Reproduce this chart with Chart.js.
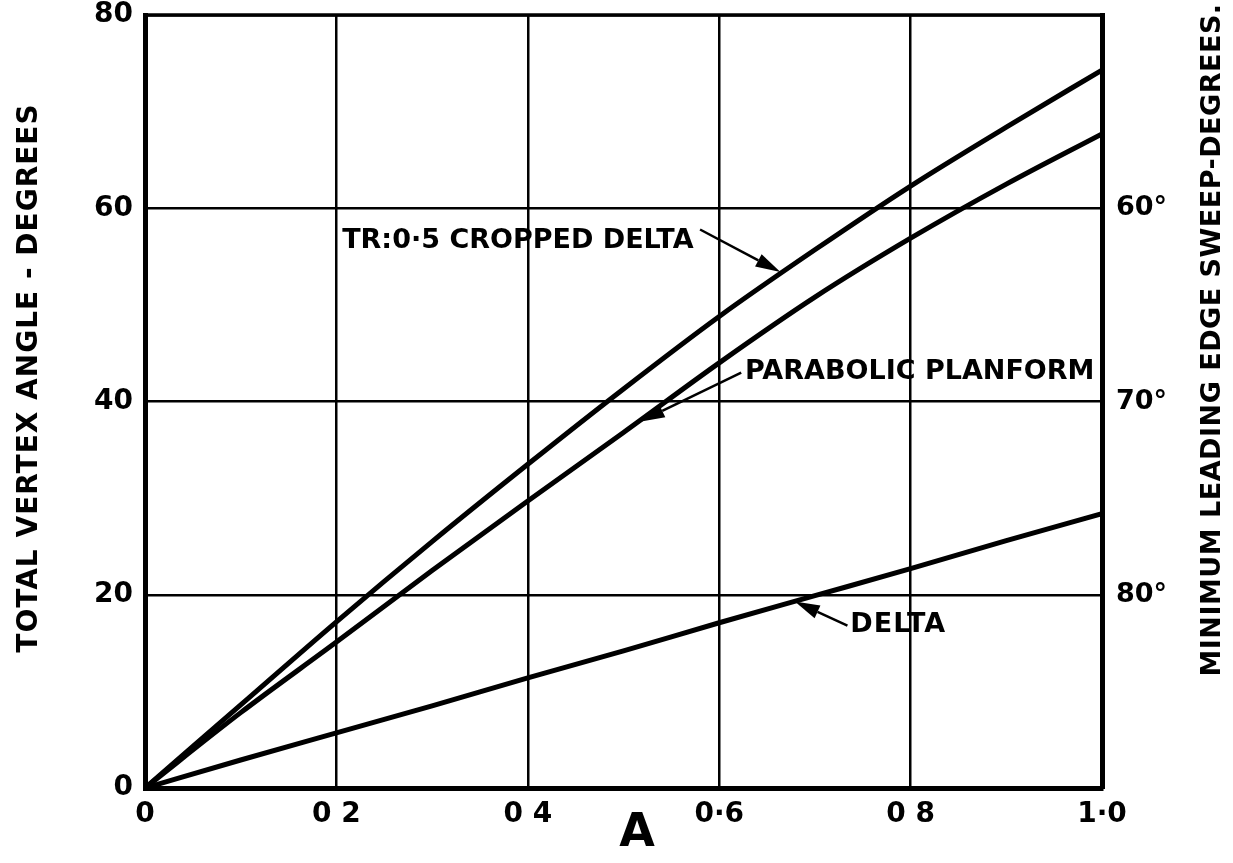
<!DOCTYPE html>
<html>
<head>
<meta charset="utf-8">
<script src="https://cdn.jsdelivr.net/npm/chart.js@4.4.1/dist/chart.umd.min.js"></script>
<style>
  html, body { margin: 0; padding: 0; background: #fff; }
  canvas { display: block; }
</style>
</head>
<body>
<canvas id="chart1" width="1233" height="863"></canvas>
<script>
// aspect ratio A
const aspectRatio = [0, 0.1, 0.2, 0.3, 0.4, 0.5, 0.6, 0.7, 0.8, 0.9, 1.0];
// total vertex angle in degrees for each planform
const croppedDelta = [0, 8.6, 17.2, 25.5, 33.5, 41.3, 48.8, 55.7, 62.3, 68.4, 74.3];
const parabolicPlanform = [0, 7.8, 15.1, 22.5, 29.7, 36.8, 44.0, 50.8, 56.9, 62.5, 67.7];
const delta = [0, 2.9, 5.7, 8.5, 11.4, 14.2, 17.1, 19.9, 22.7, 25.6, 28.4];

const xTickValues = [0, 0.2, 0.4, 0.6, 0.8, 1.0];
const xTickLabels = ['0', '0 2', '0 4', '0·6', '0 8', '1·0'];
const yTickValues = [0, 20, 40, 60, 80];
const yTickLabels = ['0', '20', '40', '60', '80'];
// leading edge sweep on the right hand scale
const sweepTickValues = [20, 40, 60];
const sweepTickLabels = ['80°', '70°', '60°'];

// curve labels with leader arrows, in data units (A, degrees)
const noteTexts = ['TR:0·5 CROPPED DELTA', 'PARABOLIC PLANFORM', 'DELTA'];
const noteAnchors = [[0.206, 56.6], [0.627, 43.1], [0.737, 16.9]];
const noteArrowFrom = [[0.580, 57.8], [0.623, 43.0], [0.734, 16.8]];
const noteArrowTip = [[0.664, 53.4], [0.517, 37.9], [0.679, 19.3]];

const FONT = "'DejaVu Sans', sans-serif";

function toPoints(ys) {
  return ys.map((y, i) => ({ x: aspectRatio[i], y: y }));
}

function curve(label, ys) {
  return {
    label: label,
    data: toPoints(ys),
    borderColor: '#000',
    borderWidth: 5,
    pointRadius: 0,
    fill: false,
    cubicInterpolationMode: 'monotone',
  };
}

function drawArrow(ctx, x0, y0, x1, y1) {
  const ang = Math.atan2(y1 - y0, x1 - x0);
  const len = 25, half = 7;
  const bx = x1 - len * Math.cos(ang), by = y1 - len * Math.sin(ang);
  ctx.beginPath();
  ctx.moveTo(x0, y0);
  ctx.lineTo(bx, by);
  ctx.lineWidth = 2.5;
  ctx.stroke();
  ctx.beginPath();
  ctx.moveTo(x1, y1);
  ctx.lineTo(bx + half * Math.sin(ang), by - half * Math.cos(ang));
  ctx.lineTo(bx - half * Math.sin(ang), by + half * Math.cos(ang));
  ctx.closePath();
  ctx.fill();
}

// keep the plot frame where the layout padding puts it
function noVerticalPad(s) {
  s.paddingTop = 0;
  s.paddingBottom = 0;
}

const extras = {
  id: 'extras',
  afterDraw(chart) {
    const ctx = chart.ctx;
    const area = chart.chartArea;
    const xs = chart.scales.x, ys = chart.scales.y;
    ctx.save();
    ctx.strokeStyle = '#000';
    ctx.fillStyle = '#000';

    // top edge of the frame
    ctx.lineWidth = 3.5;
    ctx.beginPath();
    ctx.moveTo(area.left - 2, area.top);
    ctx.lineTo(area.right + 2, area.top);
    ctx.stroke();

    // curve labels
    ctx.font = 'bold 27px ' + FONT;
    ctx.textAlign = 'left';
    ctx.textBaseline = 'middle';
    noteTexts.forEach((t, i) => {
      ctx.letterSpacing = i === 2 ? '1px' : '0px';
      ctx.fillText(t, xs.getPixelForValue(noteAnchors[i][0]), ys.getPixelForValue(noteAnchors[i][1]));
      drawArrow(ctx,
        xs.getPixelForValue(noteArrowFrom[i][0]), ys.getPixelForValue(noteArrowFrom[i][1]),
        xs.getPixelForValue(noteArrowTip[i][0]), ys.getPixelForValue(noteArrowTip[i][1]));
    });

    // axis titles
    ctx.textAlign = 'center';
    ctx.save();
    ctx.translate(30, 378);
    ctx.rotate(-Math.PI / 2);
    ctx.font = 'bold 28px ' + FONT;
    ctx.letterSpacing = '1px';
    ctx.fillText('TOTAL VERTEX ANGLE - DEGREES', 0, 0);
    ctx.restore();

    ctx.save();
    ctx.translate(1213, 340);
    ctx.rotate(-Math.PI / 2);
    ctx.font = 'bold 27px ' + FONT;
    ctx.letterSpacing = '0.5px';
    ctx.fillText('MINIMUM LEADING EDGE SWEEP-DEGREES.', 0, 0);
    ctx.restore();

    ctx.letterSpacing = '0px';
    ctx.font = 'bold 46px ' + FONT;
    ctx.fillText('A', 637, 834);
    ctx.restore();
  }
};

const ctx = document.getElementById('chart1');
new Chart(ctx, {
  type: 'line',
  data: {
    datasets: [
      curve('TR:0·5 CROPPED DELTA', croppedDelta),
      curve('PARABOLIC PLANFORM', parabolicPlanform),
      curve('DELTA', delta),
    ],
  },
  options: {
    responsive: false,
    animation: false,
    layout: { padding: { top: 15, right: 0, bottom: 0, left: 0 } },
    plugins: {
      legend: { display: false },
      tooltip: { enabled: false },
    },
    scales: {
      x: {
        type: 'linear',
        min: 0,
        max: 1,
        afterBuildTicks: (s) => { s.ticks = xTickValues.map(v => ({ value: v })); },
        afterFit: (s) => { s.height = 75; s.paddingLeft = 0; s.paddingRight = 0; },
        ticks: {
          color: '#000',
          font: { family: FONT, size: 28, weight: 'bold' },
          padding: 10,
          maxRotation: 0,
          callback: (v, i) => xTickLabels[i],
        },
        grid: { color: '#000', lineWidth: 2.5, drawTicks: false },
        border: { display: true, color: '#000', width: 5 },
      },
      y: {
        position: 'left',
        min: 0,
        max: 80,
        afterBuildTicks: (s) => { s.ticks = yTickValues.map(v => ({ value: v })); },
        afterFit: (s) => { s.width = 145; noVerticalPad(s); },
        ticks: {
          color: '#000',
          font: { family: FONT, size: 28, weight: 'bold' },
          padding: 12,
          callback: (v, i) => yTickLabels[i],
        },
        grid: { color: '#000', lineWidth: 2.5, drawTicks: false },
        border: { display: true, color: '#000', width: 5 },
      },
      y2: {
        position: 'right',
        min: 0,
        max: 80,
        afterBuildTicks: (s) => { s.ticks = sweepTickValues.map(v => ({ value: v })); },
        afterFit: (s) => { s.width = 131; noVerticalPad(s); },
        ticks: {
          color: '#000',
          font: { family: FONT, size: 27, weight: 'bold' },
          padding: 14,
          callback: (v, i) => sweepTickLabels[i],
        },
        grid: { display: false, drawTicks: false },
        border: { display: true, color: '#000', width: 5 },
      },
    },
  },
  plugins: [extras],
});
</script>
</body>
</html>
